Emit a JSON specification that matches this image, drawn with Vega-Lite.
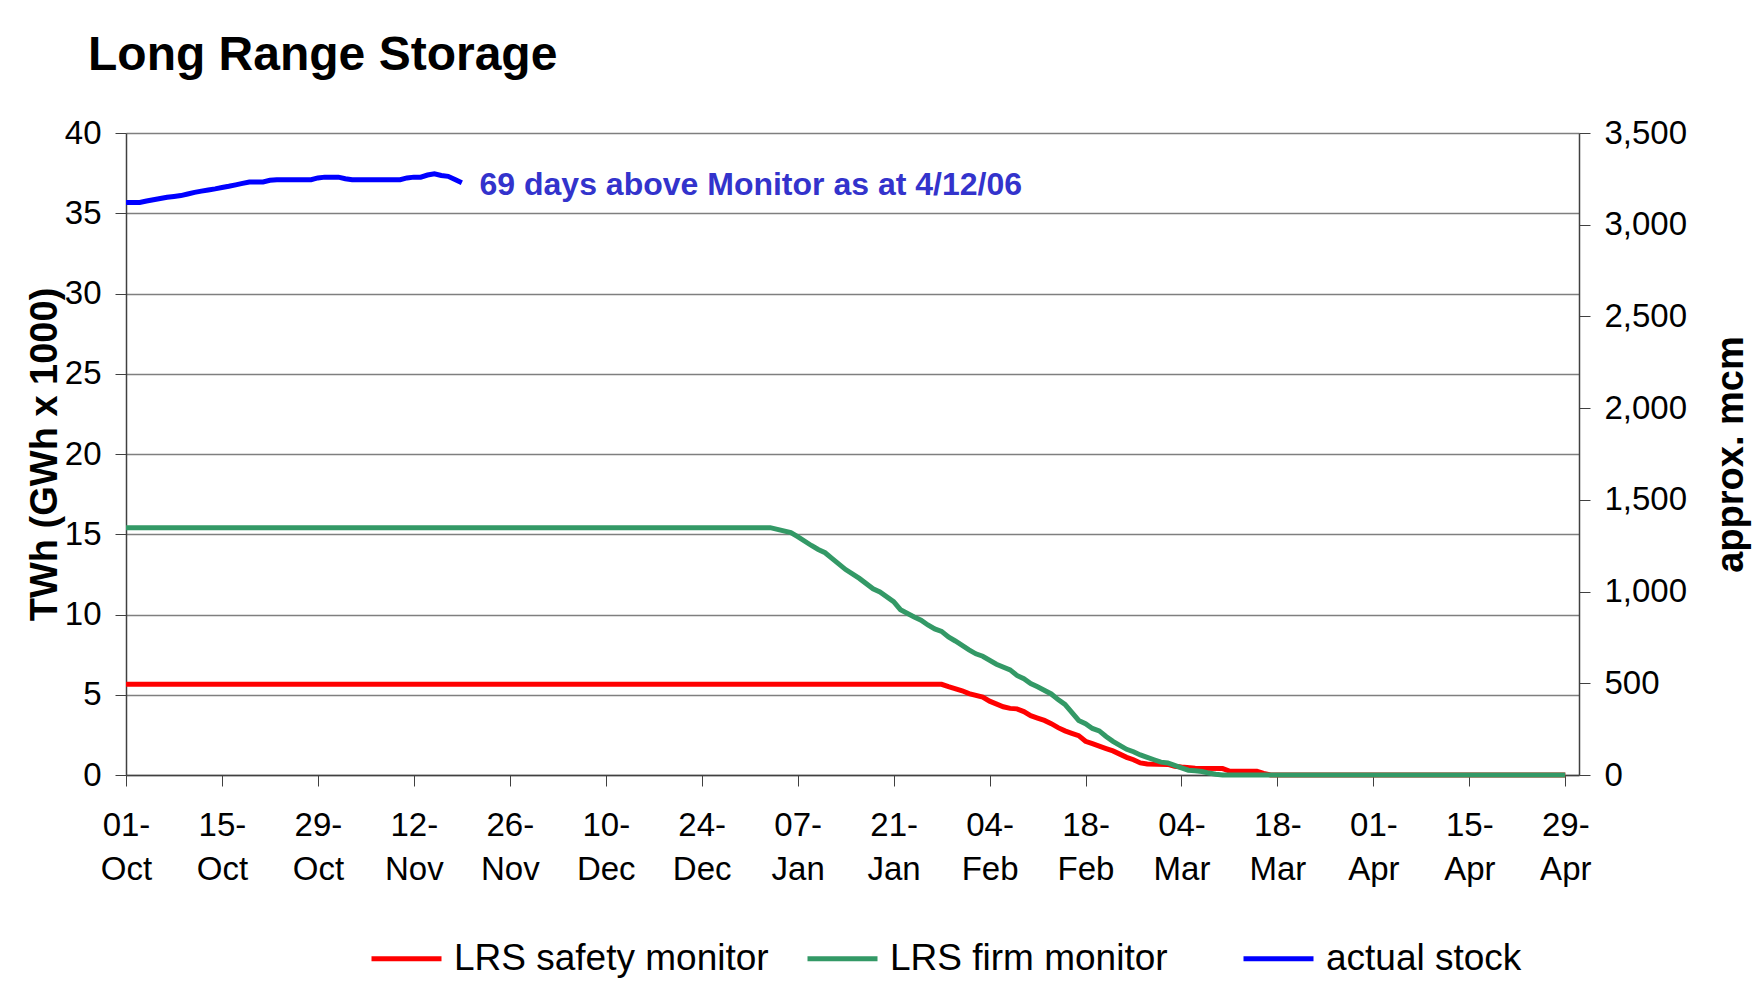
{
  "$schema": "https://vega.github.io/schema/vega-lite/v6.json",
  "width": 1453,
  "height": 642,
  "autosize": {"type": "none"},
  "padding": {"left": 126, "top": 133, "right": 183, "bottom": 218},
  "background": "white",
  "config": {"font": "Liberation Sans", "view": {"stroke": null}},
  "title": {"text": "Long Range Storage", "anchor": "start", "frame": "group", "fontSize": 48, "fontWeight": "bold", "color": "black", "dx": -38, "offset": 37},
  "datasets": {
    "storage": [
      {"date": "2006-10-01", "series": "LRS safety monitor", "value": 5.65},
      {"date": "2007-01-28", "series": "LRS safety monitor", "value": 5.65},
      {"date": "2007-01-29", "series": "LRS safety monitor", "value": 5.5},
      {"date": "2007-01-31", "series": "LRS safety monitor", "value": 5.25},
      {"date": "2007-02-01", "series": "LRS safety monitor", "value": 5.07},
      {"date": "2007-02-03", "series": "LRS safety monitor", "value": 4.85},
      {"date": "2007-02-04", "series": "LRS safety monitor", "value": 4.6},
      {"date": "2007-02-06", "series": "LRS safety monitor", "value": 4.25},
      {"date": "2007-02-07", "series": "LRS safety monitor", "value": 4.15},
      {"date": "2007-02-08", "series": "LRS safety monitor", "value": 4.12},
      {"date": "2007-02-09", "series": "LRS safety monitor", "value": 3.95},
      {"date": "2007-02-10", "series": "LRS safety monitor", "value": 3.7},
      {"date": "2007-02-11", "series": "LRS safety monitor", "value": 3.55},
      {"date": "2007-02-12", "series": "LRS safety monitor", "value": 3.4},
      {"date": "2007-02-13", "series": "LRS safety monitor", "value": 3.2},
      {"date": "2007-02-14", "series": "LRS safety monitor", "value": 2.95},
      {"date": "2007-02-15", "series": "LRS safety monitor", "value": 2.75},
      {"date": "2007-02-16", "series": "LRS safety monitor", "value": 2.6},
      {"date": "2007-02-17", "series": "LRS safety monitor", "value": 2.45},
      {"date": "2007-02-18", "series": "LRS safety monitor", "value": 2.1},
      {"date": "2007-02-19", "series": "LRS safety monitor", "value": 1.95},
      {"date": "2007-02-20", "series": "LRS safety monitor", "value": 1.8},
      {"date": "2007-02-21", "series": "LRS safety monitor", "value": 1.65},
      {"date": "2007-02-22", "series": "LRS safety monitor", "value": 1.5},
      {"date": "2007-02-23", "series": "LRS safety monitor", "value": 1.3},
      {"date": "2007-02-24", "series": "LRS safety monitor", "value": 1.1},
      {"date": "2007-02-25", "series": "LRS safety monitor", "value": 0.95},
      {"date": "2007-02-26", "series": "LRS safety monitor", "value": 0.75},
      {"date": "2007-02-27", "series": "LRS safety monitor", "value": 0.68},
      {"date": "2007-03-02", "series": "LRS safety monitor", "value": 0.66},
      {"date": "2007-03-03", "series": "LRS safety monitor", "value": 0.55},
      {"date": "2007-03-04", "series": "LRS safety monitor", "value": 0.5},
      {"date": "2007-03-06", "series": "LRS safety monitor", "value": 0.42},
      {"date": "2007-03-10", "series": "LRS safety monitor", "value": 0.4},
      {"date": "2007-03-11", "series": "LRS safety monitor", "value": 0.25},
      {"date": "2007-03-15", "series": "LRS safety monitor", "value": 0.23},
      {"date": "2007-03-16", "series": "LRS safety monitor", "value": 0.1},
      {"date": "2007-03-17", "series": "LRS safety monitor", "value": 0},
      {"date": "2007-04-29", "series": "LRS safety monitor", "value": 0},
      {"date": "2006-10-01", "series": "LRS firm monitor", "value": 15.41},
      {"date": "2007-01-03", "series": "LRS firm monitor", "value": 15.41},
      {"date": "2007-01-06", "series": "LRS firm monitor", "value": 15.1},
      {"date": "2007-01-07", "series": "LRS firm monitor", "value": 14.85},
      {"date": "2007-01-09", "series": "LRS firm monitor", "value": 14.3},
      {"date": "2007-01-10", "series": "LRS firm monitor", "value": 14.05},
      {"date": "2007-01-11", "series": "LRS firm monitor", "value": 13.85},
      {"date": "2007-01-12", "series": "LRS firm monitor", "value": 13.5},
      {"date": "2007-01-14", "series": "LRS firm monitor", "value": 12.8},
      {"date": "2007-01-16", "series": "LRS firm monitor", "value": 12.25},
      {"date": "2007-01-18", "series": "LRS firm monitor", "value": 11.6},
      {"date": "2007-01-19", "series": "LRS firm monitor", "value": 11.4},
      {"date": "2007-01-21", "series": "LRS firm monitor", "value": 10.8},
      {"date": "2007-01-22", "series": "LRS firm monitor", "value": 10.3},
      {"date": "2007-01-24", "series": "LRS firm monitor", "value": 9.85},
      {"date": "2007-01-25", "series": "LRS firm monitor", "value": 9.65},
      {"date": "2007-01-26", "series": "LRS firm monitor", "value": 9.35},
      {"date": "2007-01-27", "series": "LRS firm monitor", "value": 9.1},
      {"date": "2007-01-28", "series": "LRS firm monitor", "value": 8.95},
      {"date": "2007-01-29", "series": "LRS firm monitor", "value": 8.6},
      {"date": "2007-01-30", "series": "LRS firm monitor", "value": 8.35},
      {"date": "2007-02-01", "series": "LRS firm monitor", "value": 7.8},
      {"date": "2007-02-02", "series": "LRS firm monitor", "value": 7.55},
      {"date": "2007-02-03", "series": "LRS firm monitor", "value": 7.4},
      {"date": "2007-02-05", "series": "LRS firm monitor", "value": 6.9},
      {"date": "2007-02-07", "series": "LRS firm monitor", "value": 6.55},
      {"date": "2007-02-08", "series": "LRS firm monitor", "value": 6.2},
      {"date": "2007-02-09", "series": "LRS firm monitor", "value": 6.0},
      {"date": "2007-02-10", "series": "LRS firm monitor", "value": 5.7},
      {"date": "2007-02-11", "series": "LRS firm monitor", "value": 5.5},
      {"date": "2007-02-13", "series": "LRS firm monitor", "value": 5.05},
      {"date": "2007-02-14", "series": "LRS firm monitor", "value": 4.7},
      {"date": "2007-02-15", "series": "LRS firm monitor", "value": 4.4},
      {"date": "2007-02-16", "series": "LRS firm monitor", "value": 3.9},
      {"date": "2007-02-17", "series": "LRS firm monitor", "value": 3.4},
      {"date": "2007-02-18", "series": "LRS firm monitor", "value": 3.2},
      {"date": "2007-02-19", "series": "LRS firm monitor", "value": 2.9},
      {"date": "2007-02-20", "series": "LRS firm monitor", "value": 2.75},
      {"date": "2007-02-21", "series": "LRS firm monitor", "value": 2.4},
      {"date": "2007-02-22", "series": "LRS firm monitor", "value": 2.1},
      {"date": "2007-02-23", "series": "LRS firm monitor", "value": 1.85},
      {"date": "2007-02-24", "series": "LRS firm monitor", "value": 1.6},
      {"date": "2007-02-25", "series": "LRS firm monitor", "value": 1.45},
      {"date": "2007-02-26", "series": "LRS firm monitor", "value": 1.25},
      {"date": "2007-02-27", "series": "LRS firm monitor", "value": 1.1},
      {"date": "2007-02-28", "series": "LRS firm monitor", "value": 0.95},
      {"date": "2007-03-01", "series": "LRS firm monitor", "value": 0.8},
      {"date": "2007-03-02", "series": "LRS firm monitor", "value": 0.75},
      {"date": "2007-03-03", "series": "LRS firm monitor", "value": 0.6},
      {"date": "2007-03-04", "series": "LRS firm monitor", "value": 0.45},
      {"date": "2007-03-05", "series": "LRS firm monitor", "value": 0.3},
      {"date": "2007-03-06", "series": "LRS firm monitor", "value": 0.27},
      {"date": "2007-03-07", "series": "LRS firm monitor", "value": 0.22},
      {"date": "2007-03-08", "series": "LRS firm monitor", "value": 0.12},
      {"date": "2007-03-09", "series": "LRS firm monitor", "value": 0.05},
      {"date": "2007-03-10", "series": "LRS firm monitor", "value": 0},
      {"date": "2007-04-29", "series": "LRS firm monitor", "value": 0},
      {"date": "2006-10-01", "series": "actual stock", "value": 35.67},
      {"date": "2006-10-02", "series": "actual stock", "value": 35.67},
      {"date": "2006-10-03", "series": "actual stock", "value": 35.67},
      {"date": "2006-10-04", "series": "actual stock", "value": 35.76},
      {"date": "2006-10-05", "series": "actual stock", "value": 35.84},
      {"date": "2006-10-06", "series": "actual stock", "value": 35.92},
      {"date": "2006-10-07", "series": "actual stock", "value": 36.0},
      {"date": "2006-10-08", "series": "actual stock", "value": 36.05},
      {"date": "2006-10-09", "series": "actual stock", "value": 36.1},
      {"date": "2006-10-10", "series": "actual stock", "value": 36.2},
      {"date": "2006-10-11", "series": "actual stock", "value": 36.3},
      {"date": "2006-10-12", "series": "actual stock", "value": 36.38},
      {"date": "2006-10-13", "series": "actual stock", "value": 36.45},
      {"date": "2006-10-14", "series": "actual stock", "value": 36.52},
      {"date": "2006-10-15", "series": "actual stock", "value": 36.6},
      {"date": "2006-10-16", "series": "actual stock", "value": 36.68},
      {"date": "2006-10-17", "series": "actual stock", "value": 36.77},
      {"date": "2006-10-18", "series": "actual stock", "value": 36.86},
      {"date": "2006-10-19", "series": "actual stock", "value": 36.95},
      {"date": "2006-10-20", "series": "actual stock", "value": 36.95},
      {"date": "2006-10-21", "series": "actual stock", "value": 36.95},
      {"date": "2006-10-22", "series": "actual stock", "value": 37.05},
      {"date": "2006-10-23", "series": "actual stock", "value": 37.09},
      {"date": "2006-10-24", "series": "actual stock", "value": 37.09},
      {"date": "2006-10-25", "series": "actual stock", "value": 37.09},
      {"date": "2006-10-26", "series": "actual stock", "value": 37.09},
      {"date": "2006-10-27", "series": "actual stock", "value": 37.09},
      {"date": "2006-10-28", "series": "actual stock", "value": 37.09},
      {"date": "2006-10-29", "series": "actual stock", "value": 37.2},
      {"date": "2006-10-30", "series": "actual stock", "value": 37.25},
      {"date": "2006-10-31", "series": "actual stock", "value": 37.25},
      {"date": "2006-11-01", "series": "actual stock", "value": 37.25},
      {"date": "2006-11-02", "series": "actual stock", "value": 37.15},
      {"date": "2006-11-03", "series": "actual stock", "value": 37.09},
      {"date": "2006-11-04", "series": "actual stock", "value": 37.09},
      {"date": "2006-11-05", "series": "actual stock", "value": 37.09},
      {"date": "2006-11-06", "series": "actual stock", "value": 37.09},
      {"date": "2006-11-07", "series": "actual stock", "value": 37.09},
      {"date": "2006-11-08", "series": "actual stock", "value": 37.09},
      {"date": "2006-11-09", "series": "actual stock", "value": 37.09},
      {"date": "2006-11-10", "series": "actual stock", "value": 37.09},
      {"date": "2006-11-11", "series": "actual stock", "value": 37.2},
      {"date": "2006-11-12", "series": "actual stock", "value": 37.25},
      {"date": "2006-11-13", "series": "actual stock", "value": 37.25},
      {"date": "2006-11-14", "series": "actual stock", "value": 37.38},
      {"date": "2006-11-15", "series": "actual stock", "value": 37.46},
      {"date": "2006-11-16", "series": "actual stock", "value": 37.35},
      {"date": "2006-11-17", "series": "actual stock", "value": 37.3},
      {"date": "2006-11-18", "series": "actual stock", "value": 37.1},
      {"date": "2006-11-19", "series": "actual stock", "value": 36.9}
    ],
    "note": [
      {"date": "2006-11-21", "value": 36.76, "label": "69 days above Monitor as at 4/12/06"}
    ],
    "mcm": [
      {"mcm": 0},
      {"mcm": 3500}
    ]
  },
  "layer": [
    {
      "layer": [
        {
          "data": {"name": "storage"},
          "mark": {"type": "line", "strokeWidth": 5},
          "encoding": {
            "x": {
              "field": "date",
              "type": "temporal",
              "scale": {"type": "utc", "domain": [{"year": 2006, "month": 10, "date": 1, "utc": true}, {"year": 2007, "month": 5, "date": 1, "utc": true}]},
              "axis": {
                "title": null,
                "grid": false,
                "values": [
                  {"year": 2006, "month": 10, "date": 1, "utc": true},
                  {"year": 2006, "month": 10, "date": 15, "utc": true},
                  {"year": 2006, "month": 10, "date": 29, "utc": true},
                  {"year": 2006, "month": 11, "date": 12, "utc": true},
                  {"year": 2006, "month": 11, "date": 26, "utc": true},
                  {"year": 2006, "month": 12, "date": 10, "utc": true},
                  {"year": 2006, "month": 12, "date": 24, "utc": true},
                  {"year": 2007, "month": 1, "date": 7, "utc": true},
                  {"year": 2007, "month": 1, "date": 21, "utc": true},
                  {"year": 2007, "month": 2, "date": 4, "utc": true},
                  {"year": 2007, "month": 2, "date": 18, "utc": true},
                  {"year": 2007, "month": 3, "date": 4, "utc": true},
                  {"year": 2007, "month": 3, "date": 18, "utc": true},
                  {"year": 2007, "month": 4, "date": 1, "utc": true},
                  {"year": 2007, "month": 4, "date": 15, "utc": true},
                  {"year": 2007, "month": 4, "date": 29, "utc": true}
                ],
                "labelExpr": "[utcFormat(datum.value, '%d-'), utcFormat(datum.value, '%b')]",
                "labelFontSize": 33,
                "labelLineHeight": 44,
                "labelPadding": 23,
                "labelDx": 4,
                "labelBaseline": "top",
                "labelColor": "black",
                "labelOverlap": false,
                "labelFlush": false,
                "tickSize": 11,
                "tickColor": "#404040",
                "domainColor": "#404040",
                "domainWidth": 1.5
              }
            },
            "y": {
              "field": "value",
              "type": "quantitative",
              "scale": {"domain": [0, 40], "nice": false},
              "axis": {
                "values": [0, 5, 10, 15, 20, 25, 30, 35, 40],
                "grid": true,
                "gridColor": "#7f7f7f",
                "gridWidth": 1.3,
                "labelFontSize": 33,
                "labelPadding": 14,
                "labelColor": "black",
                "labelFlush": false,
                "tickSize": 11,
                "tickColor": "#404040",
                "domainColor": "#404040",
                "domainWidth": 1.5,
                "title": "TWh (GWh x 1000)",
                "titleFontSize": 38,
                "titleFontWeight": "bold",
                "titleColor": "black",
                "titlePadding": 0
              }
            },
            "color": {
              "field": "series",
              "type": "nominal",
              "scale": {"domain": ["LRS safety monitor", "LRS firm monitor", "actual stock"], "range": ["#ff0000", "#339966", "#0000ff"]},
              "legend": {
                "title": null,
                "orient": "none",
                "legendX": 243,
                "legendY": 788,
                "direction": "horizontal",
                "columns": 3,
                "gridAlign": "all",
                "columnPadding": 28,
                "symbolType": "stroke",
                "symbolSize": 4900,
                "symbolStrokeWidth": 5,
                "labelFontSize": 37,
                "labelOffset": 10,
                "labelLimit": 0,
                "labelColor": "black"
              }
            }
          }
        },
        {
          "data": {"name": "note"},
          "mark": {"type": "text", "align": "left", "baseline": "middle", "fontSize": 32, "fontWeight": "bold", "color": "#3333cc", "dx": 4},
          "encoding": {
            "x": {"field": "date", "type": "temporal"},
            "y": {"field": "value", "type": "quantitative"},
            "text": {"field": "label"}
          }
        }
      ]
    },
    {
      "data": {"name": "mcm"},
      "mark": {"type": "point", "opacity": 0},
      "encoding": {
        "y": {
          "field": "mcm",
          "type": "quantitative",
          "scale": {"domain": [0, 3500], "nice": false},
          "axis": {
            "orient": "right",
            "values": [0, 500, 1000, 1500, 2000, 2500, 3000, 3500],
            "format": ",.0f",
            "grid": false,
            "labelFontSize": 33,
            "labelPadding": 14,
            "labelColor": "black",
            "labelFlush": false,
            "tickSize": 11,
            "tickColor": "#404040",
            "domainColor": "#404040",
            "domainWidth": 1.5,
            "title": "approx. mcm",
            "titleFontSize": 38,
            "titleFontWeight": "bold",
            "titleColor": "black",
            "titleAngle": 270,
            "titleBaseline": "top",
            "titlePadding": 26
          }
        }
      }
    }
  ],
  "resolve": {"scale": {"y": "independent"}}
}
